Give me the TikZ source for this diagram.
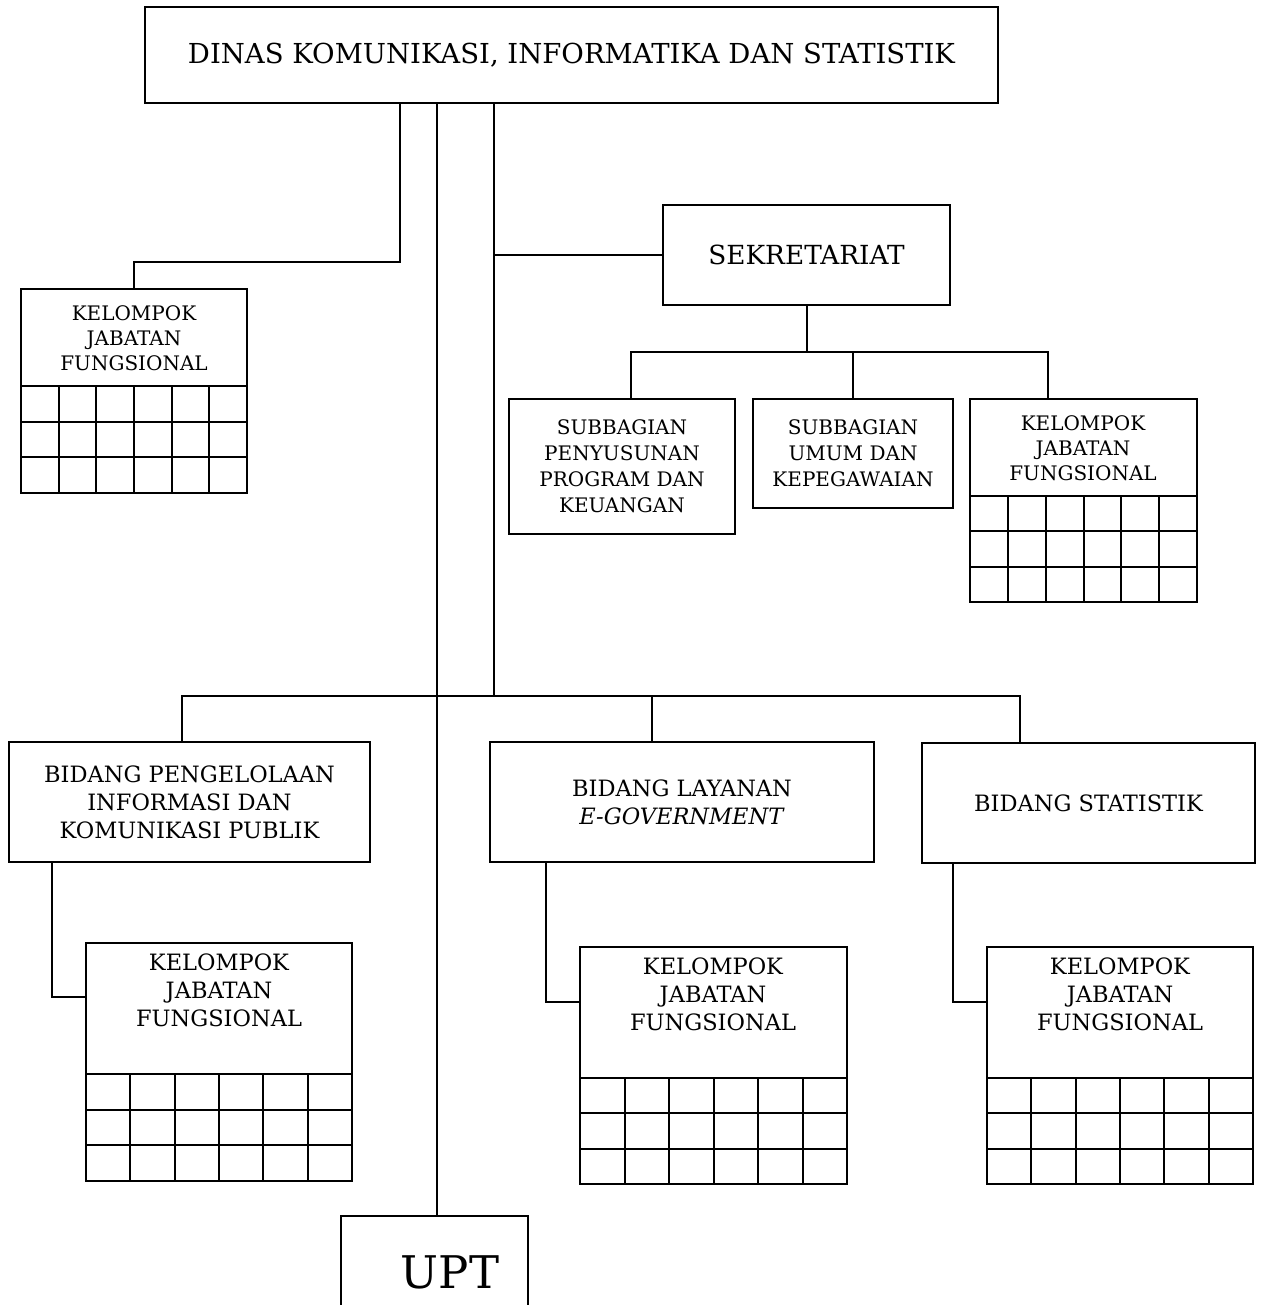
\documentclass[tikz,border=0pt]{standalone}
\usepackage{fontspec}
\setmainfont{DejaVu Serif}

% box given by its left, top, right and bottom edges (in px-like units)
\newcommand\orgbox[7]{%
  \node[unit, minimum width={(#4-#2)*1pt}, minimum height={(#5-#3)*1pt}, #6]
    (#1) at ({(#2+#4)/2},{(#3+#5)/2}) {#7};}
% 3 x 6 grid under the text part of a functional-group box
\newcommand\kjfgrid[4]{%
  \foreach \j in {0,1,2}
    \draw (#1,{#3+\j*(#4-#3)/3}) -- (#2,{#3+\j*(#4-#3)/3});
  \foreach \i in {1,...,5}
    \draw ({#1+\i*(#2-#1)/6},#3) -- ({#1+\i*(#2-#1)/6},#4);}

\begin{document}
\begin{tikzpicture}[x=1pt,y=-1pt,line width=2pt,
  unit/.style={draw, rectangle, inner sep=0pt, outer sep=0pt, align=center},
  txt/.style={inner sep=0pt, align=center},
  fTitle/.style={font=\fontsize{27.5}{33}\selectfont},
  fBig/.style={font=\fontsize{26.3}{31}\selectfont},
  fSmall/.style={font=\fontsize{20}{25}\selectfont},
  fSub/.style={font=\fontsize{20}{26}\selectfont},
  fMid/.style={font=\fontsize{22.5}{28}\selectfont},
  fUpt/.style={font=\fontsize{45}{50}\selectfont},
]
\useasboundingbox (0,0) rectangle (1261,1305);
\clip (0,0) rectangle (1261,1305);

% head office
\orgbox{dinas}{145}{7}{998}{103}{fTitle}{DINAS KOMUNIKASI, INFORMATIKA DAN STATISTIK}

% functional group under the head
\orgbox{k0}{21}{289}{247}{493}{}{}
\kjfgrid{21}{247}{386}{493}
\node[txt, fSmall] (k0t) at (134,338) {KELOMPOK\\JABATAN\\FUNGSIONAL};

% secretariat and its units
\orgbox{sek}{663}{205}{950}{305}{fBig}{SEKRETARIAT}
\orgbox{sp}{509}{399}{735}{534}{fSub}{SUBBAGIAN\\PENYUSUNAN\\PROGRAM DAN\\KEUANGAN}
\orgbox{su}{753}{399}{953}{508}{fSub}{SUBBAGIAN\\UMUM DAN\\KEPEGAWAIAN}
\orgbox{kr}{970}{399}{1197}{602}{}{}
\kjfgrid{970}{1197}{496}{602}
\node[txt, fSmall] (krt) at (1083,448) {KELOMPOK\\JABATAN\\FUNGSIONAL};

% departments
\orgbox{b1}{9}{742}{370}{862}{fMid}{BIDANG PENGELOLAAN\\INFORMASI DAN\\KOMUNIKASI PUBLIK}
\orgbox{b2}{490}{742}{874}{862}{fMid}{BIDANG LAYANAN\\\textit{E-GOVERNMENT}}
\orgbox{b3}{922}{743}{1255}{863}{fMid}{BIDANG STATISTIK}

% functional groups under the departments
\orgbox{k1}{86}{943}{352}{1181}{}{}
\kjfgrid{86}{352}{1074}{1181}
\node[txt, fMid] (k1t) at (219,990) {KELOMPOK\\JABATAN\\FUNGSIONAL};
\orgbox{k2}{580}{947}{847}{1184}{}{}
\kjfgrid{580}{847}{1078}{1184}
\node[txt, fMid] (k2t) at (713,994) {KELOMPOK\\JABATAN\\FUNGSIONAL};
\orgbox{k3}{987}{947}{1253}{1184}{}{}
\kjfgrid{987}{1253}{1078}{1184}
\node[txt, fMid] (k3t) at (1120,994) {KELOMPOK\\JABATAN\\FUNGSIONAL};

% technical unit
\orgbox{upt}{341}{1216}{528}{1330}{}{}
\node[txt, fUpt] (uptt) at (450,1272) {UPT};

% connectors
\coordinate (bus) at (494,696);
\coordinate (secbus) at (804,352);
\draw (dinas.south -| 400,0) |- (k0.north |- 0,262) -- (k0.north);
\draw (dinas.south -| 437,0) -- (upt.north -| 437,0);
\draw (dinas.south -| bus) -- (bus);
\draw (sek.west -| bus) -- (sek.west);
\draw (sek.south) -- (sek.south |- secbus);
\draw (sp.north -| 631,0) -- (631,352) -- (1048,352) -- (kr.north -| 1048,0);
\draw (su.north) -- (su.north |- secbus);
\draw (b1.north -| 182,0) -- (182,696) -- (1020,696) -- (b3.north -| 1020,0);
\draw (b2.north -| 652,0) -- (652,696);
\draw (b1.south -| 52,0) |- (k1.west |- 0,997);
\draw (b2.south -| 546,0) |- (k2.west |- 0,1002);
\draw (b3.south -| 953,0) |- (k3.west |- 0,1002);
\end{tikzpicture}
\end{document}
